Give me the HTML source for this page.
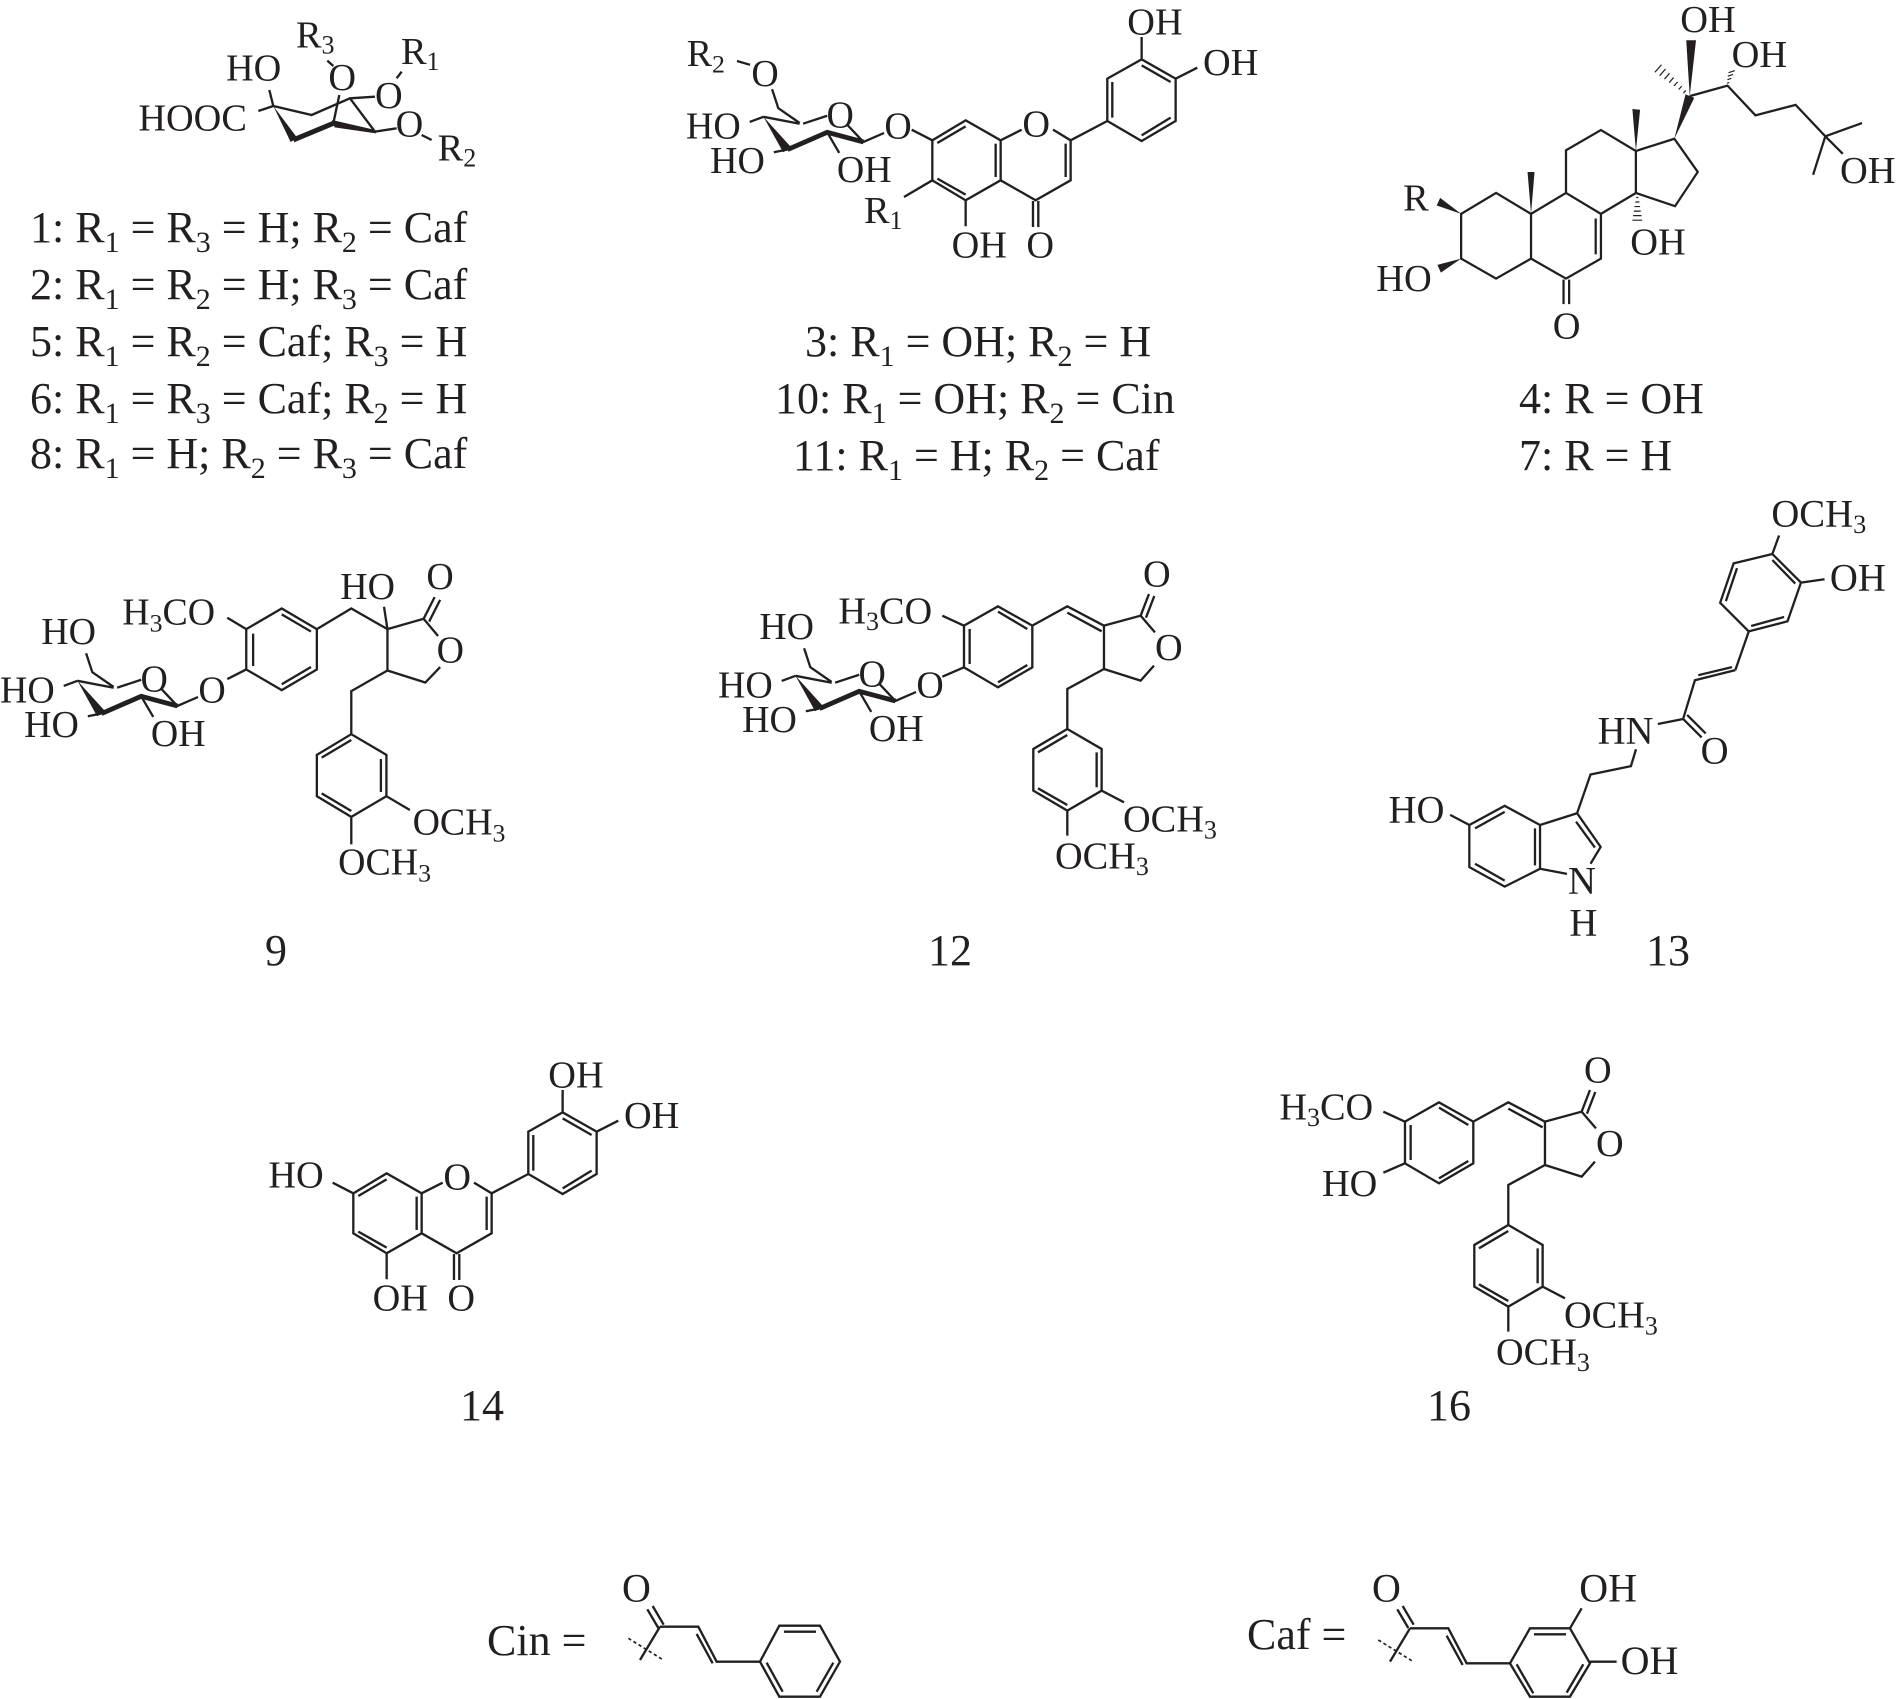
<!DOCTYPE html>
<html><head><meta charset="utf-8">
<style>
html,body{margin:0;padding:0;background:#fff;}
svg{display:block;}
text{font-family:"Liberation Serif",serif;fill:#231f20;stroke:none;}
.b{fill:none;stroke:#231f20;stroke-linecap:butt;stroke-linejoin:miter;}
.f{fill:#231f20;stroke:none;}
</style></head>
<body>
<svg width="1898" height="1699" viewBox="0 0 1898 1699" xmlns="http://www.w3.org/2000/svg">
<defs>
  <g id="flav">
    <path class="b" style="stroke-width:7" d="M310,430 L410,370 L515,430 L515,550 L410,610 L310,550 Z M410,388 L325,438 M325,545 L410,593 M500,440 L500,540 M410,610 L410,688 M515,430 L578,398 M672,398 L725,430 L725,550 L620,610 L515,550 M710,440 L710,540 M612,612 L612,690 M628,612 L628,690 M725,430 L835,372 M835,372 L835,245 L938,187 L1040,245 L1040,372 L938,432 Z M850,255 L850,362 M938,205 L1025,255 M1025,362 L938,415 M938,187 L938,120 M1040,245 L1105,212 M310,430 L248,398"/>
    <text x="580" y="418" font-size="115">O</text>
    <text x="368" y="782" font-size="115">OH</text>
    <text x="592" y="782" font-size="115">O</text>
    <text x="895" y="112" font-size="115">OH</text>
    <text x="1122" y="234" font-size="115">OH</text>
  </g>
  <g id="sug">
    <path class="b" style="stroke-width:6.7" d="M250,445 L268,500 L330,543 M225,525 L330,545 M340,545 L410,522 M470,550 L515,598 L575,572 M185,540 L225,525 M295,620 L255,628 M410,570 L445,630"/>
    <path class="b" style="stroke-width:14" d="M515,598 L410,570 L295,620"/>
    <polygon class="f" points="225,525 282,628 306,614"/>
    <text x="408" y="556" font-size="110">O</text>
    <text x="576" y="588" font-size="110">O</text>
    <text x="0" y="588" font-size="110">HO</text>
    <text x="70" y="688" font-size="110">HO</text>
    <text x="438" y="715" font-size="110">OH</text>
  </g>
  <g id="lig">
    <path class="b" style="stroke-width:7" d="M435,245 L537,187 L640,245 L640,370 L537,430 L435,370 Z M452,255 L452,360 M537,203 L625,255 M537,415 L625,363 M370,215 L435,245 M370,398 L435,370 M640,245 L745,187 L855,245 M745,206 L848,262 M855,245 L965,215 L1008,265 M965,215 L990,150 M981,221 L1006,156 M855,245 L855,375 L965,410 L1005,365 M855,375 L745,435 L745,555 M745,555 L848,615 L848,740 L745,800 L643,740 L643,615 Z M833,625 L833,730 M745,783 L657,733 M657,625 L745,573 M848,740 L915,775 M745,800 L745,875"/>
    <text x="58" y="238" font-size="115">H<tspan font-size="78" dy="20">3</tspan><tspan dy="-20">CO</tspan></text>
    <text x="972" y="128" font-size="115">O</text>
    <text x="1008" y="348" font-size="115">O</text>
    <text x="912" y="863" font-size="115">OCH<tspan font-size="78" dy="20">3</tspan></text>
    <text x="708" y="973" font-size="115">OCH<tspan font-size="78" dy="20">3</tspan></text>
  </g>
</defs>

<!-- Structure 1 -->
<g transform="translate(120,0) scale(0.3333)">
  <path class="b" style="stroke-width:7" d="M415,333 L460,318 M448,270 L460,318 L575,345 L690,295 L765,290 M690,295 L765,395 L830,385 M640,370 L658,285 M622,182 L640,198 M830,235 L845,215 M905,405 L935,420"/>
  <polygon class="f" points="460,318 512,426 532,414"/>
  <path class="b" style="stroke-width:15" d="M520,420 L640,370"/>
  <polygon class="f" points="636,360 644,382 768,400 766,390"/>
  <text x="55" y="392" font-size="115">HOOC</text>
  <text x="318" y="242" font-size="115">HO</text>
  <text x="528" y="142" font-size="115">R<tspan font-size="78" dy="18">3</tspan></text>
  <text x="625" y="270" font-size="115">O</text>
  <text x="843" y="192" font-size="115">R<tspan font-size="78" dy="18">1</tspan></text>
  <text x="765" y="324" font-size="115">O</text>
  <text x="827" y="410" font-size="115">O</text>
  <text x="953" y="482" font-size="115">R<tspan font-size="78" dy="18">2</tspan></text>
</g>

<!-- Structure 3 -->
<g transform="translate(829,-3) scale(0.3333)">
  <use href="#flav"/>
  <path class="b" style="stroke-width:7" d="M310,550 L225,600"/>
  <text x="105" y="678" font-size="115">R<tspan font-size="78" dy="18">1</tspan></text>
</g>
<g transform="translate(686,-64) scale(0.3444)">
  <use href="#sug"/>
  <path class="b" style="stroke-width:6.7" d="M148,363 L186,374"/>
  <text x="2" y="378" font-size="110">R<tspan font-size="75" dy="18">2</tspan></text>
  <text x="190" y="435" font-size="110">O</text>
</g>

<!-- Steroid 4/7 -->
<g transform="translate(1350,0) scale(0.3495)">
  <path class="b" style="stroke-width:6.5" d="M318,612 L418,552 L518,612 L518,740 L418,797 L318,740 Z M518,740 L618,797 L718,740 L718,612 L618,552 L518,612 M703,625 L703,728 M611,800 L611,870 M627,800 L627,870 M618,552 L618,430 L718,372 L818,432 L818,552 L718,612 M818,432 L928,397 L995,492 L930,590 L818,552 M972,275 L1080,245 L1160,330 L1275,300 L1360,390 L1465,352 M1360,390 L1325,500 M1360,390 L1410,440"/>
  <polygon class="f" points="518,612 508,492 528,492"/>
  <polygon class="f" points="818,432 808,312 830,314"/>
  <polygon class="f" points="318,612 258,566 248,588"/>
  <polygon class="f" points="318,740 250,758 260,780"/>
  <polygon class="f" points="928,397 960,270 985,280"/>
  <polygon class="f" points="972,275 962,115 990,115"/>
  <path class="b" style="stroke-width:3.5" d="M819,565 L825,565 M816,578 L828,578 M814,591 L830,591 M812,604 L832,604 M810,617 L834,617 M808,630 L836,630 M954.2,265.9 L960.6,258.7 M940.6,256 L949,246.4 M927,246.1 L937.4,234.3 M913.3,236.2 L925.9,222 M899.8,226.3 L914.2,209.7 M886.1,216.5 L902.7,197.5 M872.4,206.7 L891.2,185.3 M1079,238 L1085,236 M1080,228 L1091,224 M1081,218 L1096,213 M1083,208 L1101,202"/>
  <text x="152" y="602" font-size="110">R</text>
  <text x="75" y="832" font-size="110">HO</text>
  <text x="580" y="968" font-size="110">O</text>
  <text x="802" y="728" font-size="110">OH</text>
  <text x="945" y="92" font-size="110">OH</text>
  <text x="1092" y="192" font-size="110">OH</text>
  <text x="1402" y="524" font-size="110">OH</text>
</g>

<!-- Structure 9 -->
<g transform="translate(0,500) scale(0.3444)">
  <use href="#sug"/>
  <text x="120" y="418" font-size="110">HO</text>
  <path class="b" style="stroke-width:6.7" d="M715,375 L818,315 L920,375 L920,492 L818,552 L715,492 Z M735,388 L735,482 M818,332 L903,382 M818,535 L903,485 M660,342 L715,375 M715,492 L660,520 M920,375 L1020,315 L1125,375 M1115,310 L1125,375 M1125,375 L1230,345 L1272,395 M1230,345 L1262,282 M1246,353 L1278,290 M1125,375 L1125,495 L1235,530 L1278,485 M1125,495 L1020,555 L1020,680 M1020,680 L1122,740 L1122,860 L1020,920 L920,860 L920,740 Z M1106,752 L1106,848 M1020,903 L934,852 M934,748 L1020,697 M1122,860 L1190,900 M1020,920 L1020,1000"/>
  <text x="355" y="362" font-size="110">H<tspan font-size="75" dy="20">3</tspan><tspan dy="-20">CO</tspan></text>
  <text x="988" y="288" font-size="110">HO</text>
  <text x="1238" y="258" font-size="110">O</text>
  <text x="1268" y="472" font-size="110">O</text>
  <text x="1198" y="972" font-size="110">OCH<tspan font-size="75" dy="20">3</tspan></text>
  <text x="982" y="1088" font-size="110">OCH<tspan font-size="75" dy="20">3</tspan></text>
</g>

<!-- Structure 12 -->
<g transform="translate(819,544) scale(0.3333)"><use href="#lig"/></g>
<g transform="translate(718,495) scale(0.3444)"><use href="#sug"/><text x="120" y="418" font-size="110">HO</text></g>

<!-- Structure 13 -->
<g transform="translate(1370,490) scale(0.3367)">
  <path class="b" style="stroke-width:6.8" d="M295,995 L400,938 L505,995 L505,1125 L400,1178 L295,1120 Z M312,1005 L400,956 M312,1110 L400,1160 M490,1005 L490,1115 M505,995 L615,960 L685,1060 L655,1110 M612,985 L668,1062 M585,1140 L505,1125 M238,965 L295,995 M615,960 L655,845 L775,820 L790,770 M855,695 L930,680 L985,735 M942,668 L997,723 M930,680 L965,565 L1085,535 M975,550 L1075,526 M1085,535 L1125,420 M1125,420 L1040,335 L1080,218 L1195,190 L1280,275 L1240,390 Z M1057,330 L1090,232 M1195,208 L1263,278 M1132,404 L1230,377 M1195,190 L1215,135 M1280,275 L1350,265"/>
  <text x="588" y="1198" font-size="115">N</text>
  <text x="592" y="1323" font-size="115">H</text>
  <text x="55" y="988" font-size="115">HO</text>
  <text x="676" y="753" font-size="115">HN</text>
  <text x="982" y="813" font-size="115">O</text>
  <text x="1192" y="108" font-size="115">OCH<tspan font-size="78" dy="20">3</tspan></text>
  <text x="1366" y="298" font-size="115">OH</text>
</g>

<!-- Structure 14 -->
<g transform="translate(250,1050) scale(0.3333)">
  <use href="#flav"/>
  <text x="55" y="412" font-size="115">HO</text>
</g>

<!-- Structure 16 -->
<g transform="translate(1260,1040) scale(0.3333)">
  <use href="#lig"/>
  <text x="186" y="468" font-size="115">HO</text>
</g>

<!-- Cin fragment -->
<g transform="translate(600,1560) scale(0.3333)">
  <path class="b" style="stroke-width:7" d="M142,148 L175,204 M158,138 L191,194 M180,200 L295,200 L350,305 L480,305 M290,222 L338,310 M480,305 L538,197 L660,197 L720,305 L660,410 L538,410 Z M552,215 L648,215 M700,308 L650,395 M500,308 L548,395 M180,200 L120,300"/>
  <path class="b" style="stroke-width:5" stroke-dasharray="10,8" d="M85,235 L190,300"/>
  <text x="66" y="125" font-size="120">O</text>
</g>
<!-- Caf fragment -->
<g transform="translate(1350,1560) scale(0.3333)">
  <path class="b" style="stroke-width:7" d="M142,148 L175,204 M158,138 L191,194 M180,205 L295,205 L350,310 L480,310 M290,227 L338,315 M480,310 L540,205 L660,205 L720,310 L660,410 L540,410 Z M552,223 L648,223 M700,313 L650,398 M500,313 L550,400 M660,205 L695,145 M720,305 L800,305 M180,205 L120,305"/>
  <path class="b" style="stroke-width:5" stroke-dasharray="10,8" d="M85,240 L190,305"/>
  <text x="66" y="125" font-size="120">O</text>
  <text x="688" y="125" font-size="120">OH</text>
  <text x="812" y="342" font-size="120">OH</text>
</g>

<!-- Labels -->
<g font-size="44">
  <text x="30" y="242">1: R<tspan font-size="30" dy="10">1</tspan><tspan dy="-10"> = R</tspan><tspan font-size="30" dy="10">3</tspan><tspan dy="-10"> = H; R</tspan><tspan font-size="30" dy="10">2</tspan><tspan dy="-10"> = Caf</tspan></text>
  <text x="30" y="299">2: R<tspan font-size="30" dy="10">1</tspan><tspan dy="-10"> = R</tspan><tspan font-size="30" dy="10">2</tspan><tspan dy="-10"> = H; R</tspan><tspan font-size="30" dy="10">3</tspan><tspan dy="-10"> = Caf</tspan></text>
  <text x="30" y="356">5: R<tspan font-size="30" dy="10">1</tspan><tspan dy="-10"> = R</tspan><tspan font-size="30" dy="10">2</tspan><tspan dy="-10"> = Caf; R</tspan><tspan font-size="30" dy="10">3</tspan><tspan dy="-10"> = H</tspan></text>
  <text x="30" y="413">6: R<tspan font-size="30" dy="10">1</tspan><tspan dy="-10"> = R</tspan><tspan font-size="30" dy="10">3</tspan><tspan dy="-10"> = Caf; R</tspan><tspan font-size="30" dy="10">2</tspan><tspan dy="-10"> = H</tspan></text>
  <text x="30" y="468">8: R<tspan font-size="30" dy="10">1</tspan><tspan dy="-10"> = H; R</tspan><tspan font-size="30" dy="10">2</tspan><tspan dy="-10"> = R</tspan><tspan font-size="30" dy="10">3</tspan><tspan dy="-10"> = Caf</tspan></text>

  <text x="805" y="356">3: R<tspan font-size="30" dy="10">1</tspan><tspan dy="-10"> = OH; R</tspan><tspan font-size="30" dy="10">2</tspan><tspan dy="-10"> = H</tspan></text>
  <text x="775" y="413">10: R<tspan font-size="30" dy="10">1</tspan><tspan dy="-10"> = OH; R</tspan><tspan font-size="30" dy="10">2</tspan><tspan dy="-10"> = Cin</tspan></text>
  <text x="793" y="470">11: R<tspan font-size="30" dy="10">1</tspan><tspan dy="-10"> = H; R</tspan><tspan font-size="30" dy="10">2</tspan><tspan dy="-10"> = Caf</tspan></text>

  <text x="1519" y="413">4: R = OH</text>
  <text x="1519" y="470">7: R = H</text>

  <text x="276" y="965" text-anchor="middle">9</text>
  <text x="950" y="965" text-anchor="middle">12</text>
  <text x="1668" y="965" text-anchor="middle">13</text>
  <text x="482" y="1420" text-anchor="middle">14</text>
  <text x="1449" y="1420" text-anchor="middle">16</text>

  <text x="487" y="1655">Cin =</text>
  <text x="1247" y="1649">Caf =</text>
</g>
</svg>
</body></html>
